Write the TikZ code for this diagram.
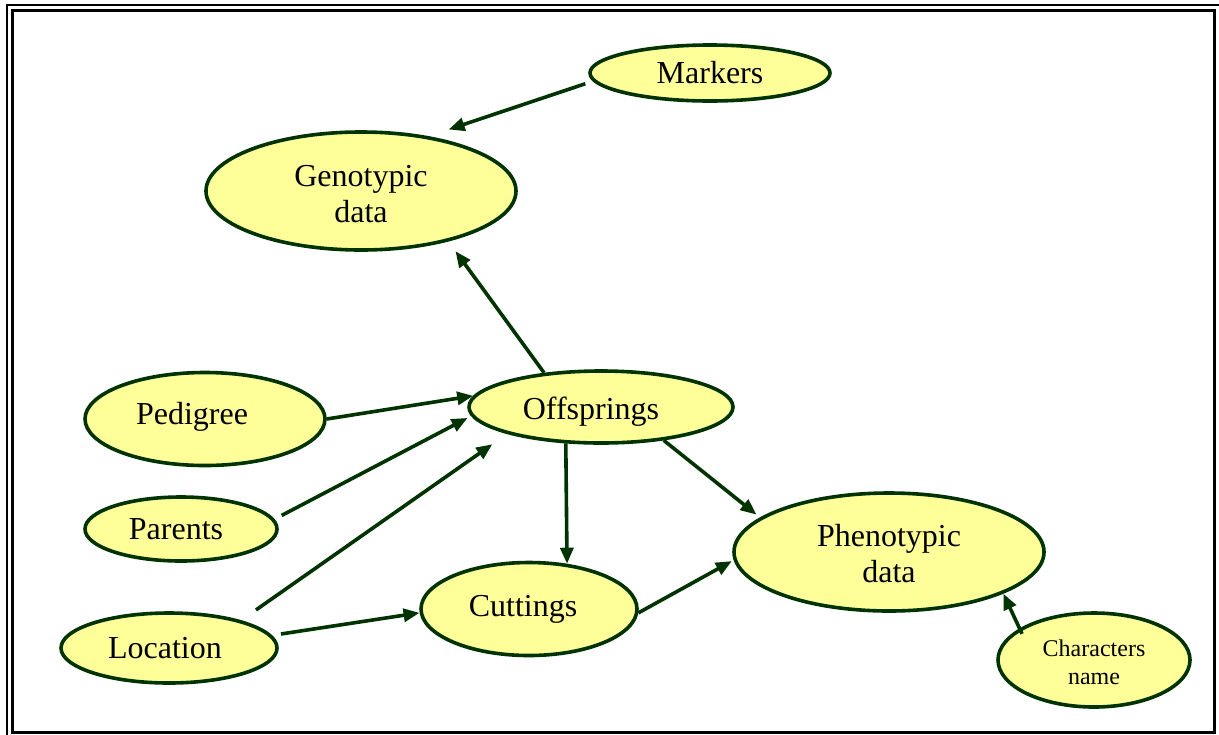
\documentclass[tikz,border=0pt]{standalone}
\usepackage{fontspec}
\setmainfont{Liberation Serif}
\usetikzlibrary{arrows.meta,shapes.geometric}
\definecolor{fillY}{rgb}{1.0,1.0,0.6}
\definecolor{lineG}{rgb}{0.0,0.2,0.0}

\begin{document}
\begin{tikzpicture}[x=0.5pt, y=-0.5pt, >={Triangle[length=8pt,width=6.5pt]},
  blob/.style={ellipse, draw=lineG, fill=fillY, line width=1.8pt, inner sep=0pt,
    align=center, font=\fontsize{16}{18}\selectfont},
  link/.style={->, draw=lineG, fill=lineG, line width=1.8pt}]
\clip (0,0) rectangle (1219,734);
\useasboundingbox (0,0) rectangle (1219,734);
% 边框
\draw[line width=1pt] (7,5) rectangle (1240,760);
\draw[line width=1.5pt] (12.5,10.5) rectangle (1214,732);
% 椭圆
\node[blob, minimum width=120pt, minimum height=28pt] (markers) at (710,73) {Markers};
\node[blob, minimum width=155pt, minimum height=59pt] (geno) at (361,191) {\rule{0pt}{14pt}Genotypic\\data};
\node[blob, minimum width=132pt, minimum height=36pt] (off) at (601,407) {\raisebox{-2.5pt}[\height][\depth]{Offsprings}\hspace*{10pt}};
\node[blob, minimum width=120pt, minimum height=46.5pt] (ped) at (205,419) {\raisebox{1pt}[\height][\depth]{Pedigree}\hspace*{13pt}};
\node[blob, minimum width=96pt, minimum height=32pt] (par) at (181,529) {Parents\hspace*{5pt}};
\node[blob, minimum width=108pt, minimum height=35pt] (loc) at (169,648) {Location\hspace*{4pt}};
\node[blob, minimum width=108pt, minimum height=46.5pt] (cut) at (529,609) {Cuttings\hspace*{6pt}};
\node[blob, minimum width=155pt, minimum height=59pt] (phen) at (889,552) {\rule{0pt}{13pt}Phenotypic\\data};
\node[blob, minimum width=96pt, minimum height=47pt, font=\fontsize{12}{14}\selectfont] (chars) at (1094,660) {\rule{0pt}{10.5pt}Characters\\name};
% 箭头
\draw[link, shorten <=4pt, shorten >=10.5pt] (markers.184.8) -- (geno.39.6);
\draw[link, shorten >=6pt] (off.149) -- (geno.-30.9);
\draw[link] (ped.0) -- (off.175);
\draw[link, shorten <=4pt, shorten >=2pt] (par.6.5) -- (off.184.9);
\draw[link, shorten <=9pt, shorten >=9pt] (loc.21.2) -- (off.196.1);
\draw[link, shorten <=4.5pt] (loc.7) -- (cut.182);
\draw[link] (off.226) -- (cut.50);
\draw[link, shorten >=2.3pt] (off.-28) -- (phen.165.1);
\draw[link, shorten >=1pt] (cut.-2) -- (phen.183.3);
\draw[link, shorten <=-3pt] (chars.157.7) -- (phen.-20.5);
\end{tikzpicture}
\end{document}
